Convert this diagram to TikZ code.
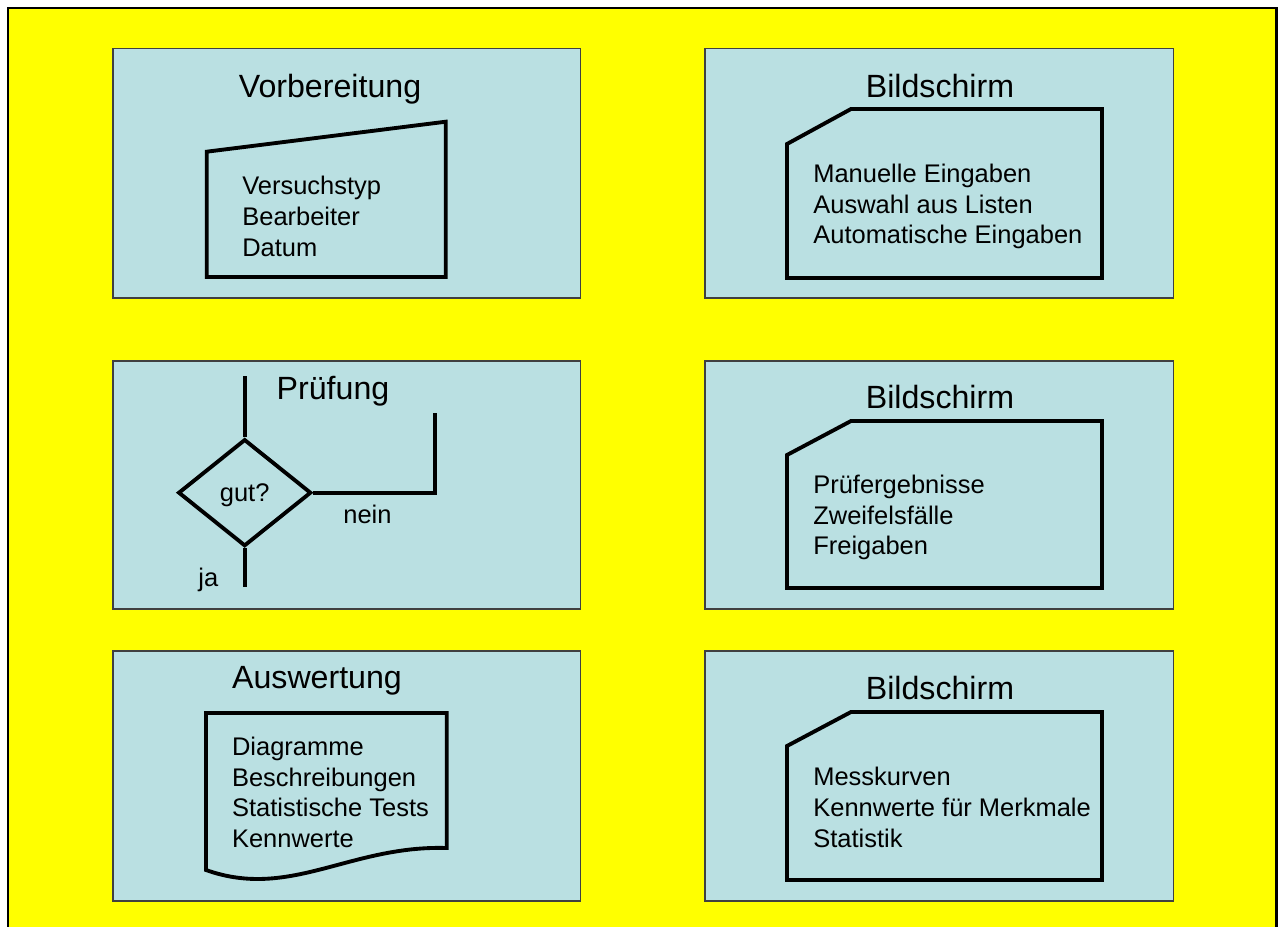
\documentclass[tikz,border=0pt]{standalone}
\usepackage{fontspec}
\setmainfont{Liberation Sans}
\usetikzlibrary{shapes.geometric}
\definecolor{panelcyan}{RGB}{186,224,226}
\definecolor{pageyellow}{RGB}{255,255,0}

\begin{document}
\begin{tikzpicture}[x=0.02cm,y=-0.02cm,
    panel/.style={fill=panelcyan,draw=black!75,line width=.6pt},
    symb/.style={draw,line width=2.2pt},
    title/.style={anchor=base,inner sep=0pt,font=\fontsize{18.3}{22}\selectfont},
    item/.style={anchor=base west,inner sep=0pt,font=\fontsize{14.5}{17.6}\selectfont}]

        \useasboundingbox (0,0) rectangle (1279,927);
        \clip (0,0) rectangle (1279,927);
        \fill[white] (0,0) rectangle (1279,927);
        \draw[fill=pageyellow,line width=1.7pt] (8,8) rectangle (1276,950);

        \draw[panel] (113,48.7) rectangle (580.6,298);
        \draw[panel] (705,48.7) rectangle (1173.7,298);
        \draw[panel] (113,361) rectangle (580.6,609);
        \draw[panel] (705,361) rectangle (1173.7,609);
        \draw[panel] (113,651) rectangle (580.6,901);
        \draw[panel] (705,651) rectangle (1173.7,901);

        % Vorbereitung
        \node[title] (vorb) at (330,97) {Vorbereitung};
        \draw[symb] (206.7,151.7) -- (445.8,121.7) -- (445.8,277) -- (206.7,277) -- cycle;
        \node[item] (vorb1) at (242,194) {Versuchstyp};
        \node[item] (vorb2) at (242,225) {Bearbeiter};
        \node[item] (vorb3) at (242,256) {Datum};

        % Bildschirm 1
        \node[title] (bild1) at (940,97) {Bildschirm};
        \draw[symb] (787,144) -- (851,109) -- (1102,109) -- (1102,278) -- (787,278) -- cycle;
        \node[item] (bild1a) at (813,182) {Manuelle Eingaben};
        \node[item] (bild1b) at (813,213) {Auswahl aus Listen};
        \node[item] (bild1c) at (813,243) {Automatische Eingaben};

        % Pruefung
        \node[title] (pruef) at (333,399) {Prüfung};
        \node[symb,diamond,inner sep=0pt,minimum width=2.66cm,minimum height=2.14cm,
          text depth=0pt,font=\fontsize{14.5}{17.6}\selectfont] (gut) at (244.7,492.7) {gut?};
        \coordinate (gtop) at (244.7,376);
        \coordinate (gja) at (244.7,586.7);
        \coordinate (gbend) at (435,492.7);
        \coordinate (gend) at (435,413);
        \draw[symb] (gut.north) -- (gtop);
        \draw[symb] (gut.south) -- (gja);
        \draw[symb] (gut.east) -- (gbend) -- (gend);
        \node[item] (nein) at (343,523) {nein};
        \node[item] (ja) at (198,586) {ja};

        % Bildschirm 2
        \node[title] (bild2) at (940,408) {Bildschirm};
        \draw[symb] (787,455) -- (851,421) -- (1102,421) -- (1102,588) -- (787,588) -- cycle;
        \node[item] (bild2a) at (813,493) {Prüfergebnisse};
        \node[item] (bild2b) at (813,524) {Zweifelsfälle};
        \node[item] (bild2c) at (813,554) {Freigaben};

        % Auswertung
        \node[title] (ausw) at (317,688) {Auswertung};
        \draw[symb] (206,713) -- (446.7,713) -- (446.7,848)
          .. controls (350,845) and (290,900) .. (206,870) -- cycle;
        \node[item] (ausw1) at (231.7,755) {Diagramme};
        \node[item] (ausw2) at (231.7,786) {Beschreibungen};
        \node[item] (ausw3) at (231.7,816) {Statistische Tests};
        \node[item] (ausw4) at (231.7,847) {Kennwerte};

        % Bildschirm 3
        \node[title] (bild3) at (940,699) {Bildschirm};
        \draw[symb] (787,746) -- (851,712) -- (1102,712) -- (1102,880) -- (787,880) -- cycle;
        \node[item] (bild3a) at (813,785) {Messkurven};
        \node[item] (bild3b) at (813,816) {Kennwerte für Merkmale};
        \node[item] (bild3c) at (813,847) {Statistik};
      \end{tikzpicture}
\end{document}
